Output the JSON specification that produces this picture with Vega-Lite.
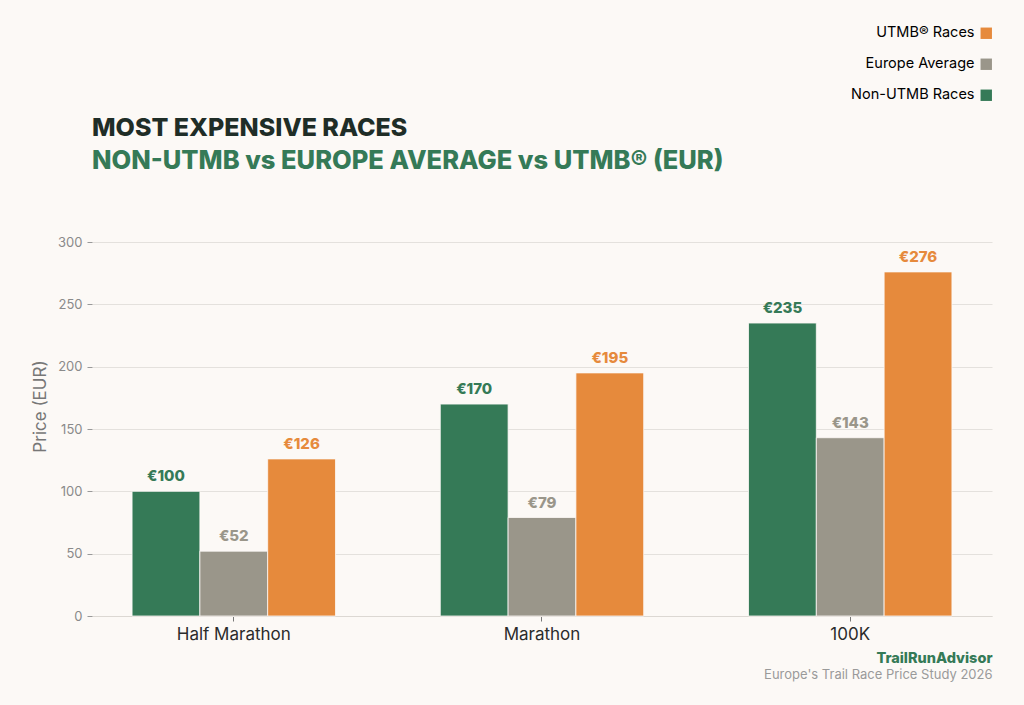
{
  "$schema": "https://vega.github.io/schema/vega-lite/v6.json",
  "width": 900,
  "height": 374,
  "autosize": {"type": "none"},
  "padding": {"left": 92, "top": 242, "right": 32, "bottom": 89},
  "background": "#fcf9f6",
  "config": {
    "font": "Inter",
    "view": {"stroke": null}
  },
  "title": {
    "text": "MOST EXPENSIVE RACES",
    "subtitle": "NON-UTMB vs EUROPE AVERAGE vs UTMB® (EUR)",
    "anchor": "start",
    "frame": "group",
    "font": "Inter",
    "fontSize": 25,
    "fontWeight": 800,
    "color": "#1f2d27",
    "subtitleFont": "Inter",
    "subtitleFontSize": 25.5,
    "subtitleFontWeight": 800,
    "subtitleColor": "#357a57",
    "subtitlePadding": 8,
    "offset": -148
  },
  "data": {
    "values": [
      {"distance": "Half Marathon", "series": "Non-UTMB Races", "price": 100},
      {"distance": "Half Marathon", "series": "Europe Average", "price": 52},
      {"distance": "Half Marathon", "series": "UTMB® Races", "price": 126},
      {"distance": "Marathon", "series": "Non-UTMB Races", "price": 170},
      {"distance": "Marathon", "series": "Europe Average", "price": 79},
      {"distance": "Marathon", "series": "UTMB® Races", "price": 195},
      {"distance": "100K", "series": "Non-UTMB Races", "price": 235},
      {"distance": "100K", "series": "Europe Average", "price": 143},
      {"distance": "100K", "series": "UTMB® Races", "price": 276}
    ]
  },
  "transform": [{"calculate": "'€' + datum.price", "as": "label"}],
  "encoding": {
    "x": {
      "field": "distance",
      "type": "nominal",
      "sort": ["Half Marathon", "Marathon", "100K"],
      "scale": {"paddingInner": 0.34, "paddingOuter": 0.13}
    },
    "xOffset": {
      "field": "series",
      "type": "nominal",
      "sort": ["Non-UTMB Races", "Europe Average", "UTMB® Races"],
      "scale": {"paddingInner": 0, "paddingOuter": 0}
    },
    "y": {
      "field": "price",
      "type": "quantitative",
      "scale": {"domain": [0, 300]},
      "axis": {
        "values": [0, 50, 100, 150, 200, 250, 300],
        "title": "Price (EUR)",
        "titleFont": "Inter",
        "titleFontSize": 17,
        "titleFontWeight": "normal",
        "titleColor": "#777",
        "titlePadding": 8,
        "titleY": 164,
        "labelFont": "Inter",
        "labelFontSize": 13,
        "labelColor": "#8a8a8a",
        "labelPadding": 5,
        "tickColor": "#999",
        "tickSize": 5,
        "domain": false,
        "grid": true,
        "gridColor": "#e4e1dd",
        "gridWidth": 1
      }
    }
  },
  "layer": [
    {
      "mark": {"type": "bar", "stroke": "#fcf9f6", "strokeWidth": 0.8},
      "encoding": {
        "x": {
          "field": "distance",
          "type": "nominal",
          "sort": ["Half Marathon", "Marathon", "100K"],
          "axis": {
            "orient": "bottom",
            "labelAngle": 0,
            "labelFont": "Inter",
            "labelFontSize": 17,
            "labelColor": "#2b2b2b",
            "labelPadding": 5,
            "domainColor": "#dcd8d3",
            "tickColor": "#777",
            "tickSize": 5,
            "title": "TrailRunAdvisor",
            "titleAnchor": "end",
            "titleAlign": "right",
            "titleFont": "Inter",
            "titleFontSize": 14.5,
            "titleFontWeight": 800,
            "titleColor": "#357a57",
            "titlePadding": 9
          }
        },
        "color": {
          "field": "series",
          "type": "nominal",
          "scale": {
            "domain": ["Non-UTMB Races", "Europe Average", "UTMB® Races"],
            "range": ["#357a57", "#9a968a", "#e68a3c"]
          },
          "legend": {
            "orient": "none",
            "legendX": 887,
            "legendY": -216,
            "direction": "vertical",
            "title": null,
            "values": ["UTMB® Races", "Europe Average", "Non-UTMB Races"],
            "symbolType": "square",
            "symbolSize": 130,
            "symbolStrokeWidth": 0,
            "symbolOpacity": 1,
            "labelFont": "Inter",
            "labelFontSize": 14.5,
            "labelAlign": "right",
            "labelOffset": -19,
            "rowPadding": 16,
            "encode": {
              "labels": {
                "update": {
                  "fill": {"signal": "datum.label === 'UTMB® Races' ? '#e68a3c' : datum.label === 'Europe Average' ? '#9a968a' : '#357a57'"}
                }
              }
            }
          }
        }
      }
    },
    {
      "mark": {"type": "text", "dy": -15, "fontSize": 15, "fontWeight": 800, "font": "Inter"},
      "encoding": {
        "x": {
          "field": "distance",
          "type": "nominal",
          "sort": ["Half Marathon", "Marathon", "100K"],
          "axis": {
            "orient": "bottom",
            "labels": false,
            "ticks": false,
            "domain": false,
            "grid": false,
            "title": "Europe's Trail Race Price Study 2026",
            "titleAnchor": "end",
            "titleAlign": "right",
            "titleFont": "Inter",
            "titleFontSize": 13,
            "titleFontWeight": "normal",
            "titleColor": "#9a9a9a",
            "titlePadding": 52
          }
        },
        "text": {"field": "label", "type": "nominal"},
        "color": {"field": "series", "type": "nominal", "legend": null}
      }
    }
  ],
  "resolve": {"axis": {"x": "independent"}}
}
